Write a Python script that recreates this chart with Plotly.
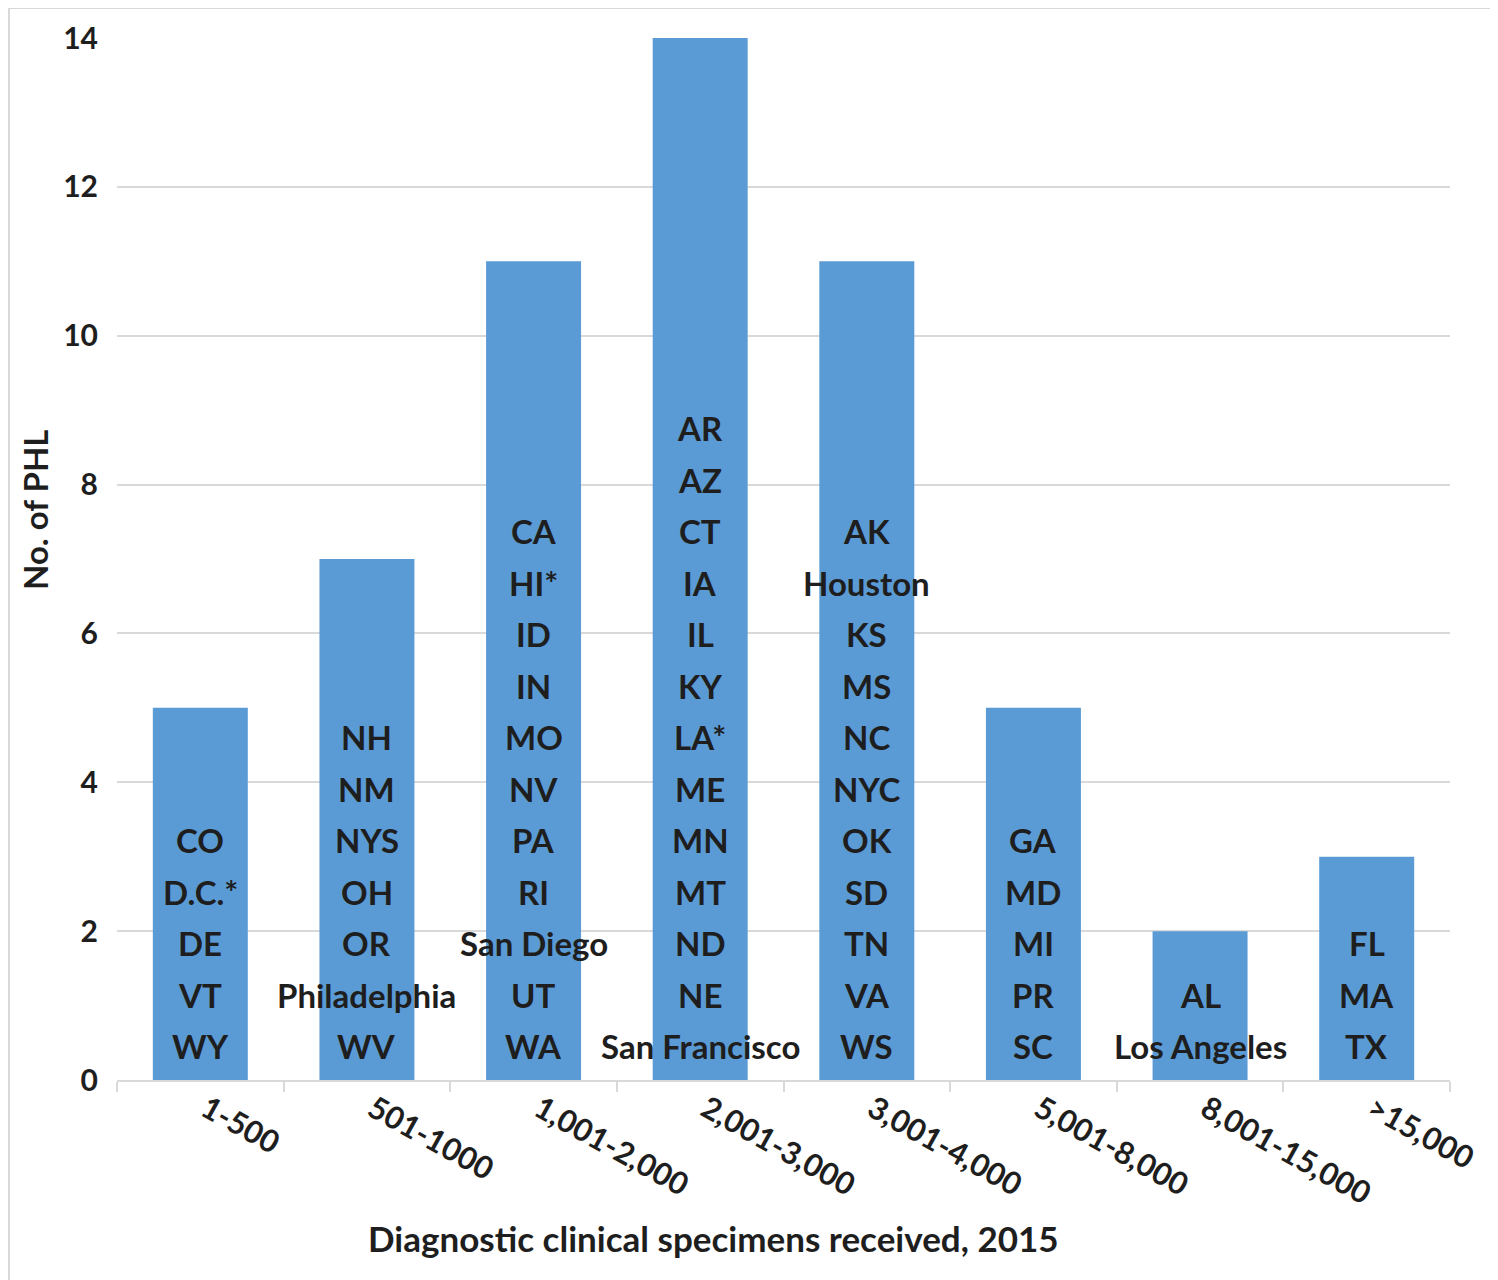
import plotly.graph_objects as go

categories = ["1-500", "501-1000", "1,001-2,000", "2,001-3,000", "3,001-4,000",
              "5,001-8,000", "8,001-15,000", ">15,000"]
counts = [5, 7, 11, 14, 11, 5, 2, 3]
labs_1 = ["CO", "D.C.*", "DE", "VT", "WY"]
labs_2 = ["NH", "NM", "NYS", "OH", "OR", "Philadelphia", "WV"]
labs_3 = ["CA", "HI*", "ID", "IN", "MO", "NV", "PA", "RI", "San Diego", "UT", "WA"]
labs_4 = ["AR", "AZ", "CT", "IA", "IL", "KY", "LA*", "ME", "MN", "MT", "ND", "NE", "San Francisco"]
labs_5 = ["AK", "Houston", "KS", "MS", "NC", "NYC", "OK", "SD", "TN", "VA", "WS"]
labs_6 = ["GA", "MD", "MI", "PR", "SC"]
labs_7 = ["AL", "Los Angeles"]
labs_8 = ["FL", "MA", "TX"]
bar_labels = [labs_1, labs_2, labs_3, labs_4, labs_5, labs_6, labs_7, labs_8]

FONT = "Lato"
TXT = "#1e1e1e"
BAR = "#5b9bd5"
GRID = "#d9d9d9"

OFF = 8  # page body margin
W, H = 1498 - OFF, 1280 - OFF
L, T = 117 - OFF, 38 - OFF
pw, ph = 1333, 1042
R, B = W - L - pw, H - T - ph

def px_x(p):
    return (p - OFF - L) / pw

def px_y(p):
    return (T + ph - (p - OFF)) / ph

fig = go.Figure(go.Bar(x=categories, y=counts, marker=dict(color=BAR, line=dict(width=0)),
                       width=0.57, hoverinfo="skip"))

annotations = []
LINE = 51.5
for cat, labs in zip(categories, bar_labels):
    n = len(labs)
    for i, lab in enumerate(labs):
        annotations.append(dict(x=cat, y=0, xref="x", yref="y", text=f"<b>{lab}</b>",
                                showarrow=False, yanchor="middle", xanchor="center",
                                yshift=34 + LINE * (n - 1 - i),
                                font=dict(family=FONT, size=33, color=TXT)))

annotations.append(dict(x=px_x(713), y=px_y(1238), xref="paper", yref="paper",
                        text="<b>Diagnostic clinical specimens received, 2015</b>",
                        showarrow=False, xanchor="center", yanchor="middle",
                        font=dict(family=FONT, size=35, color=TXT)))
annotations.append(dict(x=px_x(35), y=px_y(510), xref="paper", yref="paper",
                        text="<b>No. of PHL</b>", textangle=-90,
                        showarrow=False, xanchor="center", yanchor="middle",
                        font=dict(family=FONT, size=33, color=TXT)))

fig.update_layout(
    width=W, height=H,
    margin=dict(l=L, r=R, t=T, b=B, autoexpand=False),
    paper_bgcolor="white", plot_bgcolor="white",
    showlegend=False,
    annotations=annotations,
    shapes=[dict(type="rect", xref="paper", yref="paper",
                 x0=px_x(9), x1=px_x(1491), y0=px_y(1300), y1=px_y(8),
                 line=dict(color=GRID, width=2), fillcolor="rgba(0,0,0,0)", layer="below")],
)
fig.update_xaxes(
    type="category", showline=True, linecolor=GRID, linewidth=2,
    ticks="outside", tickson="boundaries", ticklen=10, tickcolor=GRID, tickwidth=2,
    tickangle=29, tickfont=dict(family=FONT, size=31, color=TXT),
    tickprefix="<b>", ticksuffix="</b>", showgrid=False, zeroline=False,
    ticklabelshift=6, ticklabelstandoff=-3,
)
fig.update_yaxes(
    range=[0, 14], dtick=2, showgrid=True, gridcolor=GRID, gridwidth=2,
    zeroline=False, showline=False, ticks="",
    tickfont=dict(family=FONT, size=30, color=TXT),
    tickprefix="<b>", ticksuffix="</b>", ticklabelstandoff=18,
)

fig.write_html("out.html")
